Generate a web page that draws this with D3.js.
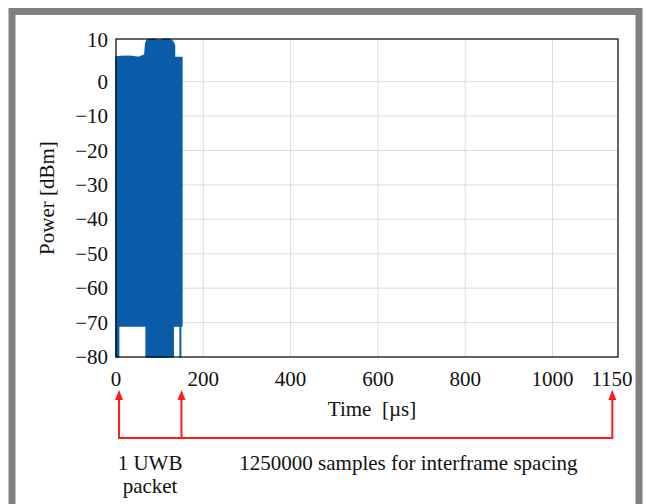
<!DOCTYPE html>
<html>
<head>
<meta charset="utf-8">
<script src="https://cdn.jsdelivr.net/npm/d3@7"></script>
<style>
  html, body { margin: 0; padding: 0; background: #fff; }
  svg text { font-family: "Liberation Serif", "DejaVu Serif", serif; fill: #111; }
</style>
</head>
<body>
<svg id="chart"></svg>
<script>
// axis setup
let xTicks = [0, 200, 400, 600, 800, 1000, 1150];
let yTicks = [-80, -70, -60, -50, -40, -30, -20, -10, 0];
let yTopLabel = '10';
let xMax = 1150;
let yMin = -80;
let yMax = 12.4;

// upper envelope of the packet power [dBm] over time [us]
let upperT = [0, 10, 30, 45, 52, 60, 66, 68, 71, 85, 100, 112, 125, 131, 134, 134, 151];
let upperV = [7.2, 7.3, 7.4, 7.2, 7.0, 7.5, 7.7, 11.0, 12.1, 12.3, 12.0, 12.3, 12.2, 11.5, 10.5, 7.0, 7.0];

// lower envelope
let lowerT = [0, 6, 6, 69, 69, 131, 131, 147, 147, 148, 148, 151];
let lowerV = [-80, -80, -71, -71, -80, -80, -71, -71, -80, -80, -71, -71];

// annotation arrows [us] and labels
let arrowAt = [7, 150, 1137];
let packetLabel = ['1 UWB', 'packet'];
let spacingLabel = '1250000 samples for interframe spacing';

let w = 645, h = 504;
let m = { left: 116, right: 27, top: 39, bottom: 147 };
let fs = 21;

let svg = d3.select('#chart')
    .attr('width', w)
    .attr('height', h);

// grey frame
svg.append('rect')
    .attr('x', 12).attr('y', 11.5)
    .attr('width', 627).attr('height', 600)
    .attr('fill', '#fff')
    .attr('stroke', '#808080')
    .attr('stroke-width', 7);

let x = d3.scaleLinear().domain([0, xMax]).range([m.left, w - m.right]);
let y = d3.scaleLinear().domain([yMin, yMax]).range([h - m.bottom, m.top]);

let fmt = d => d < 0 ? '\u2212' + Math.abs(d) : String(d);

// grid
svg.append('g')
    .selectAll('line')
    .data(xTicks.slice(1, -1))
    .enter().append('line')
    .attr('x1', d => x(d)).attr('x2', d => x(d))
    .attr('y1', y(yMin)).attr('y2', y(yMax))
    .attr('stroke', '#dcdcdc');

svg.append('g')
    .selectAll('line')
    .data(yTicks.slice(1))
    .enter().append('line')
    .attr('x1', x(0)).attr('x2', x(xMax))
    .attr('y1', d => y(d)).attr('y2', d => y(d))
    .attr('stroke', '#dcdcdc');

// power trace as filled polygon between envelopes
let pts = upperT.map((t, i) => [t, upperV[i]])
    .concat(lowerT.map((t, i) => [t, lowerV[i]]).reverse());

let line = d3.line()
    .x(d => x(d[0]))
    .y(d => y(d[1]));

svg.append('path')
    .datum(pts)
    .attr('d', line(pts) + 'Z')
    .attr('fill', '#0b5ca8')
    .attr('stroke', '#0b5ca8')
    .attr('stroke-width', 1.5)
    .attr('stroke-linejoin', 'round');

// axis box
svg.append('rect')
    .attr('x', x(0)).attr('y', y(yMax))
    .attr('width', x(xMax) - x(0))
    .attr('height', y(yMin) - y(yMax))
    .attr('fill', 'none')
    .attr('stroke', '#000')
    .attr('stroke-width', 1.2);

// tick labels
svg.append('g')
    .selectAll('text')
    .data(xTicks)
    .enter().append('text')
    .attr('x', d => d === xMax ? x(d) - 6 : x(d))
    .attr('y', y(yMin) + 29)
    .attr('text-anchor', 'middle')
    .attr('font-size', fs)
    .text(d => d);

svg.append('g')
    .selectAll('text')
    .data(yTicks)
    .enter().append('text')
    .attr('x', x(0) - 8)
    .attr('y', d => y(d) + 7)
    .attr('text-anchor', 'end')
    .attr('font-size', fs)
    .text(fmt);

svg.append('text')
    .attr('x', x(0) - 8)
    .attr('y', y(yMax) + 8)
    .attr('text-anchor', 'end')
    .attr('font-size', fs)
    .text(yTopLabel);

// axis titles
svg.append('text')
    .attr('x', (x(0) + x(xMax)) / 2 + 5)
    .attr('y', y(yMin) + 59)
    .attr('text-anchor', 'middle')
    .attr('font-size', fs)
    .attr('xml:space', 'preserve')
    .text('Time\u00a0 [\u00b5s]');

svg.append('text')
    .attr('transform', `translate(54, ${(y(yMin) + y(yMax)) / 2}) rotate(-90)`)
    .attr('text-anchor', 'middle')
    .attr('font-size', fs)
    .text('Power [dBm]');

// annotation
let red = '#ff1a1a';
let baseY = 438, tipY = 390;

svg.append('line')
    .attr('x1', x(arrowAt[0])).attr('x2', x(arrowAt[2]))
    .attr('y1', baseY).attr('y2', baseY)
    .attr('stroke', red).attr('stroke-width', 2);

let arrows = svg.append('g')
    .selectAll('g')
    .data(arrowAt)
    .enter().append('g')
    .attr('transform', d => `translate(${x(d)}, 0)`);

arrows.append('line')
    .attr('x1', 0).attr('x2', 0)
    .attr('y1', baseY + 1).attr('y2', tipY + 6)
    .attr('stroke', red).attr('stroke-width', 2);

arrows.append('path')
    .attr('d', `M0,${tipY} L-4,${tipY + 10} L4,${tipY + 10} Z`)
    .attr('fill', red);

svg.append('g')
    .selectAll('text')
    .data(packetLabel)
    .enter().append('text')
    .attr('x', x(78))
    .attr('y', (d, i) => 470 + i * 23)
    .attr('text-anchor', 'middle')
    .attr('font-size', fs)
    .text(d => d);

svg.append('text')
    .attr('x', x(670))
    .attr('y', 470)
    .attr('text-anchor', 'middle')
    .attr('font-size', fs)
    .text(spacingLabel);
</script>
</body>
</html>
